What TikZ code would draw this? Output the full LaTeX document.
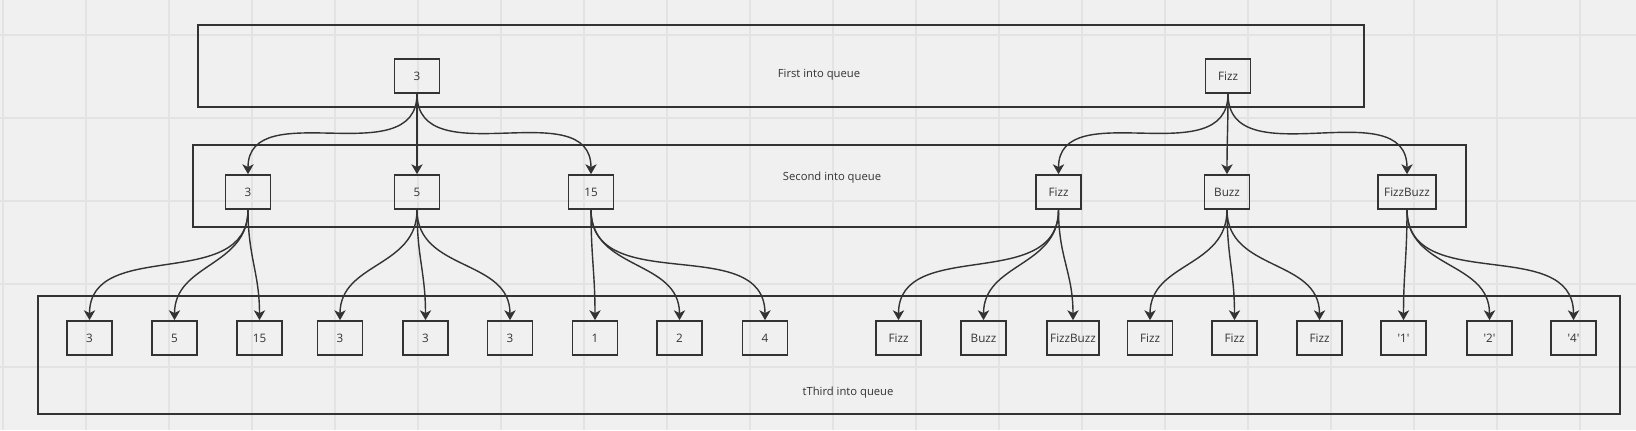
\documentclass[tikz,border=0pt]{standalone}
\usepackage{fontspec}
\setmainfont{Open Sans}
\usetikzlibrary{arrows.meta}

\definecolor{canvas}{HTML}{F0F0F0}
\definecolor{gridgray}{HTML}{E3E3E3}
\definecolor{ink}{HTML}{333333}

\tikzset{
  qbox/.style={draw=ink, line width=1.2pt, minimum width=1.125cm, minimum height=0.85cm,
    inner sep=1pt, text=ink, font=\fontsize{8.3}{10}\selectfont},
  frame/.style={draw=ink, line width=1.3pt},
  caption/.style={text=ink, font=\fontsize{8}{10}\selectfont},
  link/.style={draw=ink, line width=1pt, -{Stealth[length=7pt,width=8pt,inset=2pt]},
    out=-90, in=90, looseness=1.1},
}

\begin{document}
\begin{tikzpicture}[x=0.025cm, y=0.025cm]
    \fill[canvas] (0,0) rectangle (1636,-430);
    \useasboundingbox (0,0) rectangle (1636,-430);

    % background grid
    \foreach \i in {0,...,19}
        \draw[gridgray, line width=0.8pt] (3+83*\i,0) -- (3+83*\i,-430);
    \foreach \j in {0,...,4}
        \draw[gridgray, line width=0.8pt] (0,-35-83*\j) -- (1636,-35-83*\j);

    % queue levels
    \draw[frame] (198,-25) rectangle (1364,-107);
    \draw[frame] (193,-145) rectangle (1466,-227);
    \draw[frame] (38,-296) rectangle (1620,-414);

    \node[caption] (first) at (819,-75) {First into queue};
    \node[caption] (second) at (832,-178) {Second into queue};
    \node[caption] (third) at (848,-393) {tThird into queue};

    % first level
    \node[qbox] (t3) at (417,-76) {3};
    \node[qbox] (tF) at (1228,-76) {Fizz};

    % second level
    \node[qbox] (s3) at (248,-192) {3};
    \node[qbox] (s5) at (417,-192) {5};
    \node[qbox] (s15) at (591,-192) {15};
    \node[qbox] (sF) at (1058.5,-192) {Fizz};
    \node[qbox] (sB) at (1227,-192) {Buzz};
    \node[qbox, minimum width=1.45cm] (sFB) at (1407,-192) {FizzBuzz};

    % third level
    \node[qbox] (r3a) at (89.5,-338) {3};
    \node[qbox] (r5) at (174.5,-338) {5};
    \node[qbox] (r15) at (259.5,-338) {15};
    \node[qbox] (r3b) at (340,-338) {3};
    \node[qbox] (r3c) at (425.5,-338) {3};
    \node[qbox] (r3d) at (510,-338) {3};
    \node[qbox] (r1) at (595,-338) {1};
    \node[qbox] (r2) at (679.5,-338) {2};
    \node[qbox] (r4) at (765,-338) {4};
    \node[qbox] (rF1) at (898.5,-338) {Fizz};
    \node[qbox] (rB) at (983.5,-338) {Buzz};
    \node[qbox, minimum width=1.3cm] (rFB) at (1073,-338) {FizzBuzz};
    \node[qbox] (rF2) at (1150,-338) {Fizz};
    \node[qbox] (rF3) at (1234.5,-338) {Fizz};
    \node[qbox] (rF4) at (1319.5,-338) {Fizz};
    \node[qbox] (rq1) at (1403.5,-338) {\textquotesingle1\textquotesingle};
    \node[qbox] (rq2) at (1489.5,-338) {\textquotesingle2\textquotesingle};
    \node[qbox] (rq4) at (1573.5,-338) {\textquotesingle4\textquotesingle};

    % first -> second
    \draw[link] (t3.south) to (s3.north);
    \draw[link] (t3.south) to (s5.north);
    \draw[link] (t3.south) to (s15.north);
    \draw[link] (tF.south) to (sF.north);
    \draw[link] (tF.south) to (sB.north);
    \draw[link] (tF.south) to (sFB.north);

    % second -> third
    \draw[link] (s3.south) to (r3a.north);
    \draw[link] (s3.south) to (r5.north);
    \draw[link] (s3.south) to (r15.north);
    \draw[link] (s5.south) to (r3b.north);
    \draw[link] (s5.south) to (r3c.north);
    \draw[link] (s5.south) to (r3d.north);
    \draw[link] (s15.south) to (r1.north);
    \draw[link] (s15.south) to (r2.north);
    \draw[link] (s15.south) to (r4.north);
    \draw[link] (sF.south) to (rF1.north);
    \draw[link] (sF.south) to (rB.north);
    \draw[link] (sF.south) to (rFB.north);
    \draw[link] (sB.south) to (rF2.north);
    \draw[link] (sB.south) to (rF3.north);
    \draw[link] (sB.south) to (rF4.north);
    \draw[link] (sFB.south) to (rq1.north);
    \draw[link] (sFB.south) to (rq2.north);
    \draw[link] (sFB.south) to (rq4.north);
\end{tikzpicture}
\end{document}
